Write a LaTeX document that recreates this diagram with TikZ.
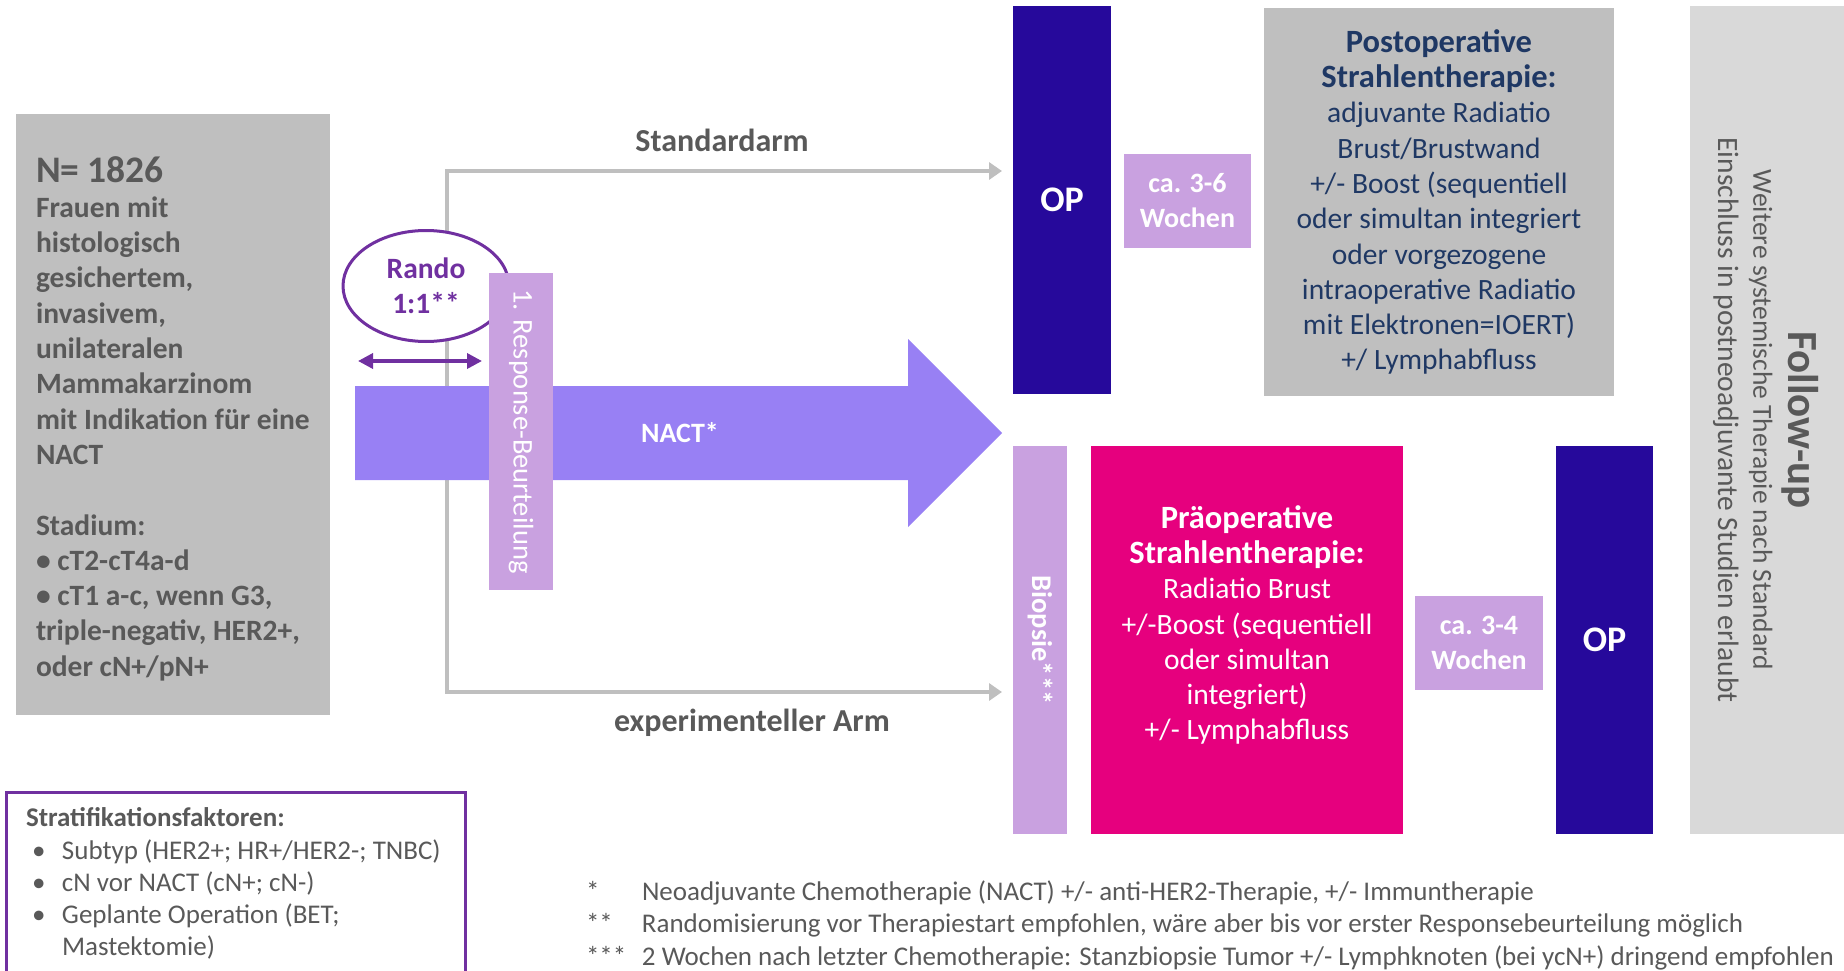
\documentclass[tikz,border=0pt]{standalone}
\usepackage{fontspec}
\setmainfont{Carlito}
\usetikzlibrary{arrows.meta,shapes.geometric}

\definecolor{popgray}{HTML}{BFBFBF}
\definecolor{txtgray}{HTML}{595959}
\definecolor{randopurple}{HTML}{7030A0}
\definecolor{nactviolet}{HTML}{9880F4}
\definecolor{lavender}{HTML}{C9A1E0}
\definecolor{opblue}{HTML}{26099B}
\definecolor{navytext}{HTML}{1F3864}
\definecolor{prepink}{HTML}{E6007E}
\definecolor{fugray}{HTML}{D9D9D9}

\newcommand{\bodyfont}{\fontsize{29.5}{35.3}\selectfont}
\newcommand{\headfont}{\fontsize{32.5}{37.6}\selectfont\bfseries}
\newcommand{\notefont}{\fontsize{27}{32.2}\selectfont}

\begin{document}
\begin{tikzpicture}[x=1pt, y=-1pt,
    box/.style={inner sep=0pt, outer sep=0pt, align=center},
    conn/.style={popgray, line width=4pt, -{Triangle[length=13pt,width=17pt]}},
    armlabel/.style={font=\fontsize{32}{38}\selectfont\bfseries, text=txtgray}]

    \clip (0,0) rectangle (1844,971);

    % connectors of both arms
    \coordinate (branch) at (447,433);
    \coordinate (stdend) at (1002,171);
    \coordinate (expend) at (1002,692);
    \draw[conn] (branch) |- (stdend);
    \draw[conn] (branch) |- (expend);
    \node[armlabel] (stdlabel) at (722,140) {Standardarm};
    \node[armlabel] (explabel) at (752,723) {experimenteller Arm};

    % population
    \node[box, fill=popgray, minimum width=314, minimum height=601] (pop) at (173,414.5) {};
    \node[box, align=left, anchor=west, text=txtgray, font=\bodyfont\bfseries] (poptext) at ([xshift=20pt,yshift=-4pt]pop.west)
        {\fontsize{37.5}{40}\selectfont N= 1826\\
         \bodyfont Frauen mit\\
         histologisch\\
         gesichertem,\\
         invasivem,\\
         unilateralen\\
         Mammakarzinom\\
         mit Indikation für eine\\
         NACT\\[35.3pt]
         Stadium:\\
         \textbullet{} cT2-cT4a-d\\
         \textbullet{} cT1 a-c, wenn G3,\\
         triple-negativ, HER2+,\\
         oder cN+/pN+};

    % NACT
    \fill[nactviolet] (355,386) -- (908,386) -- (908,339) -- (1002,433)
        -- (908,527) -- (908,480) -- (355,480) -- cycle;
    \node[text=white, font=\fontsize{28}{34}\selectfont\bfseries] (nact) at (680,433) {NACT*};

    % randomisation
    \node[ellipse, draw=randopurple, line width=3pt, fill=white, minimum width=166, minimum height=111,
        inner sep=0pt, align=center, text=randopurple, font=\bodyfont\bfseries] (rando) at (426,286) {Rando\\1:1**};
    \coordinate (randol) at (358,361);
    \coordinate (randor) at (482,361);
    \draw[randopurple, line width=3.5pt, {Triangle[length=15pt,width=15pt]}-{Triangle[length=15pt,width=15pt]}] (randol) -- (randor);
    \node[box, fill=lavender, rotate=-90, minimum width=317, minimum height=64, text=white, font=\fontsize{28.5}{34}\selectfont] (resp) at (521,431.5)
        {1. Response-Beurteilung};

    % standard arm
    \node[box, fill=opblue, minimum width=98, minimum height=388, text=white, font=\fontsize{36}{42}\selectfont\bfseries] (optop) at (1062,200) {OP};
    \node[box, fill=lavender, minimum width=127, minimum height=94, text=white, font=\fontsize{28}{35}\selectfont\bfseries] (wk36) at (1187.5,201) {ca. 3-6\\Wochen};
    \node[box, fill=popgray, minimum width=350, minimum height=388, text=navytext, font=\bodyfont] (postop) at (1439,202)
        {\headfont Postoperative\\
         \headfont Strahlentherapie:\\
         \bodyfont adjuvante Radiatio\\
         Brust/Brustwand\\
         +/- Boost (sequentiell\\
         oder simultan integriert\\
         oder vorgezogene\\
         intraoperative Radiatio\\
         mit Elektronen=IOERT)\\
         +/ Lymphabfluss};

    % experimental arm
    \node[box, fill=lavender, rotate=-90, minimum width=388, minimum height=54, text=white, font=\fontsize{28.5}{34}\selectfont\bfseries] (biopsy) at (1040,640) {Biopsie***};
    \node[box, fill=prepink, minimum width=312, minimum height=388] (preop) at (1247,640) {};
    \node[box, text=white, font=\bodyfont] (preoptext) at ([yshift=15pt]preop.center)
        {\headfont Präoperative\\
         \headfont Strahlentherapie:\\
         \bodyfont Radiatio Brust\\
         +/-Boost (sequentiell\\
         oder simultan\\
         integriert)\\
         +/- Lymphabfluss};
    \node[box, fill=lavender, minimum width=128, minimum height=94, text=white, font=\fontsize{28}{35}\selectfont\bfseries] (wk34) at (1479,643) {ca. 3-4\\Wochen};
    \node[box, fill=opblue, minimum width=97, minimum height=388, text=white, font=\fontsize{36}{42}\selectfont\bfseries] (opbot) at (1604.5,640) {OP};

    % follow-up
    \node[box, fill=fugray, minimum width=160, minimum height=828] (follow) at (1770,420) {};
    \node[box, rotate=-90, text=txtgray, font=\bodyfont] (followtext) at (1766,420)
        {\fontsize{43}{46}\selectfont\bfseries Follow-up\\
         \fontsize{27.5}{33}\selectfont\mdseries Weitere systemische Therapie nach Standard\\
         Einschluss in postneoadjuvante Studien erlaubt};

    % stratification
    \draw[randopurple, line width=3pt] (6,1000) -- (6,792) -- (465,792) -- (465,1000);
    \node[box, align=left, anchor=north west, text=txtgray, font=\notefont] (strat) at (26,808)
        {\textbf{Stratifikationsfaktoren:}\\
         \hspace*{6pt}\makebox[30pt][l]{\textbullet}Subtyp (HER2+; HR+/HER2-; TNBC)\\
         \hspace*{6pt}\makebox[30pt][l]{\textbullet}cN vor NACT (cN+; cN-)\\
         \hspace*{6pt}\makebox[30pt][l]{\textbullet}Geplante Operation (BET;\\
         \hspace*{36pt}Mastektomie)};

    % footnotes
    \node[box, align=left, anchor=north west, text=txtgray, font=\notefont] (notes) at (586,881)
        {\makebox[56pt][l]{*}Neoadjuvante Chemotherapie (NACT) +/- anti-HER2-Therapie, +/- Immuntherapie\\
         \makebox[56pt][l]{**}Randomisierung vor Therapiestart empfohlen, wäre aber bis vor erster Responsebeurteilung möglich\\
         \makebox[56pt][l]{***}2 Wochen nach letzter Chemotherapie: Stanzbiopsie Tumor +/- Lymphknoten (bei ycN+) dringend empfohlen};
\end{tikzpicture}
\end{document}
